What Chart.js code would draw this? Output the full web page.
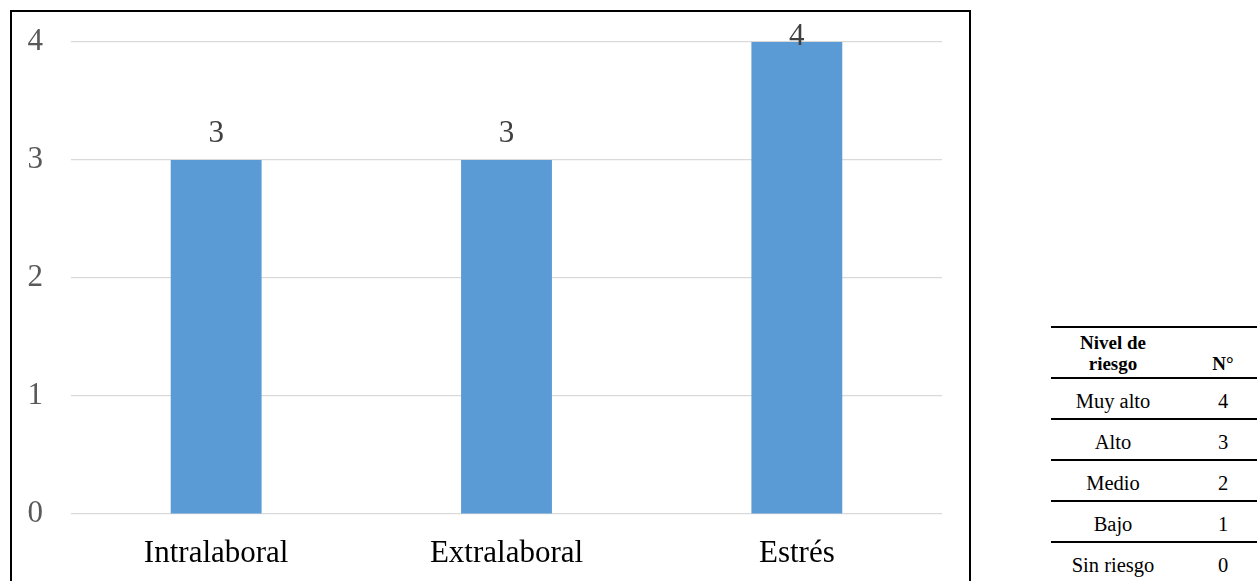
<!DOCTYPE html>
<html>
<head>
<meta charset="utf-8">
<script src="https://cdn.jsdelivr.net/npm/chart.js"></script>
<style>
  html, body { margin: 0; padding: 0; background: #fff; }
  body { width: 1257px; height: 581px; overflow: hidden; position: relative; }
  #box {
    position: absolute; left: 10px; top: 10px;
    width: 957px; height: 600px;
    border: 2px solid #000;
  }
  #box canvas { position: absolute; left: 0; top: 0; }
  #niveles {
    position: absolute; left: 1051px; top: 326px;
    width: 220px; border-collapse: collapse;
    font-family: "Liberation Serif", "Times New Roman", serif;
    font-size: 19px; color: #000;
  }
  #niveles th, #niveles td { padding: 0; text-align: center; }
  #niveles thead tr { border-top: 2px solid #000; border-bottom: 2px solid #000; height: 51px; }
  #niveles th { font-weight: bold; line-height: 21px; vertical-align: bottom; padding-bottom: 3px; }
  #niveles tbody tr { border-bottom: 2px solid #000; height: 41px; }
  #niveles td { vertical-align: bottom; padding-bottom: 5px; font-size: 20.5px; }
</style>
</head>
<body>
<div id="box"><canvas id="grafico"></canvas></div>
<table id="niveles">
  <thead><tr><th style="width:124px">Nivel de<br>riesgo</th><th>N°</th></tr></thead>
  <tbody></tbody>
</table>
<script>
var categorias = ["Intralaboral", "Extralaboral", "Estrés"];
var valores = [3, 3, 4];
var ejeMin = 0, ejeMax = 4, paso = 1;

var nivelesRiesgo = ["Muy alto", "Alto", "Medio", "Bajo", "Sin riesgo"];
var puntajes = [4, 3, 2, 1, 0];

// tabla de niveles
var cuerpo = document.querySelector("#niveles tbody");
for (var i = 0; i < nivelesRiesgo.length; i++) {
    var fila = document.createElement("tr");
    fila.innerHTML = "<td>" + nivelesRiesgo[i] + "</td><td>" + puntajes[i] + "</td>";
    cuerpo.appendChild(fila);
}

var fuente = '"Liberation Serif", "Times New Roman", serif';

// etiquetas de valor encima de cada barra
var etiquetas = {
    id: "etiquetas",
    afterDatasetsDraw: function(chart) {
        var ctx = chart.ctx;
        var meta = chart.getDatasetMeta(0);
        ctx.save();
        ctx.font = "31px " + fuente;
        ctx.fillStyle = "#404040";
        ctx.textAlign = "center";
        ctx.textBaseline = "alphabetic";
        meta.data.forEach(function(bar, i) {
            var y = Math.max(bar.y - 18, chart.chartArea.top + 3);
            ctx.fillText(String(chart.data.datasets[0].data[i]), bar.x, y);
        });
        ctx.restore();
    }
};

var canvas = document.getElementById("grafico");
canvas.width = 957;
canvas.height = 569;
canvas.style.width = "957px";
canvas.style.height = "569px";

new Chart(canvas, {
    type: "bar",
    data: {
        labels: categorias,
        datasets: [{
            data: valores,
            backgroundColor: "#5B9BD5",
            borderWidth: 0,
            barPercentage: 0.313,
            categoryPercentage: 1
        }]
    },
    options: {
        responsive: false,
        animation: false,
        layout: { padding: { top: 30, right: 27, left: 0, bottom: 0 } },
        plugins: {
            legend: { display: false },
            tooltip: { enabled: false }
        },
        scales: {
            x: {
                grid: { display: false, drawTicks: false },
                border: { display: false },
                ticks: {
                    padding: 21,
                    color: "#000",
                    font: { family: fuente, size: 31 }
                },
                afterFit: function(scale) {
                    scale.height = 67;
                    scale.paddingLeft = 0;
                    scale.paddingRight = 0;
                }
            },
            y: {
                min: ejeMin,
                max: ejeMax,
                grid: { color: "#d9d9d9", lineWidth: 1.2, drawTicks: false },
                border: { display: false },
                ticks: {
                    stepSize: paso,
                    padding: 28,
                    color: "#595959",
                    font: { family: fuente, size: 31 }
                },
                afterFit: function(scale) {
                    scale.width = 59;
                    scale.paddingTop = 0;
                    scale.paddingBottom = 0;
                }
            }
        }
    },
    plugins: [etiquetas]
});
</script>
</body>
</html>
